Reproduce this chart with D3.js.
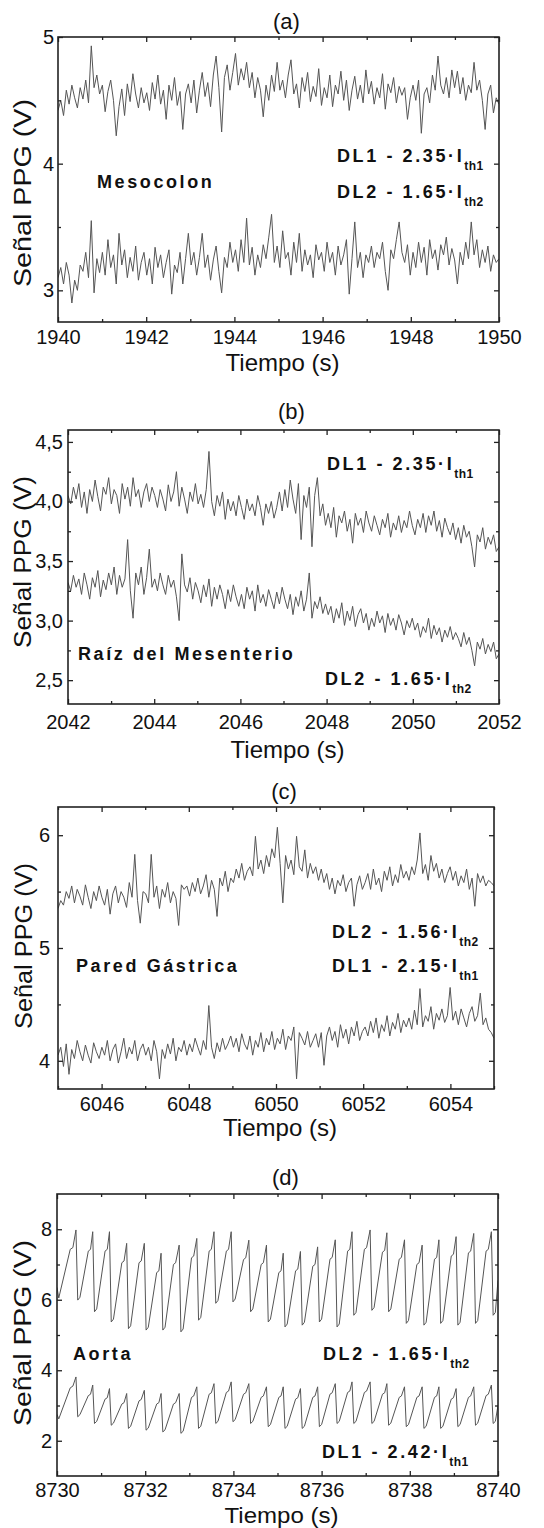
<!DOCTYPE html>
<html>
<head>
<meta charset="utf-8">
<script src="https://cdn.jsdelivr.net/npm/d3@7"></script>
<style>
  body { margin: 0; background: #fff; }
  svg text { font-family: "Liberation Sans", Arial, sans-serif; fill: #111; }
</style>
</head>
<body>
<svg id="fig" width="544" height="1528"></svg>
<script>
// ---- tick values ----
const ticksA = [1940, 1942, 1944, 1946, 1948, 1950];
const minorA = [1941, 1943, 1945, 1947, 1949];
const ticksB = [2042, 2044, 2046, 2048, 2050, 2052];
const minorB = [2043, 2045, 2047, 2049, 2051];
const ticksC = [6046, 6048, 6050, 6052, 6054];
const minorC = [6045, 6047, 6049, 6051, 6053, 6055];
const ticksD = [8730, 8732, 8734, 8736, 8738, 8740];
const minorD = [8731, 8733, 8735, 8737, 8739];

// ---- (a) Mesocolon, 160 samples over 10 s ----
const mesocolonDL1 = [
  4.42,4.50,4.38,4.58,4.47,4.62,4.52,4.44,4.60,4.51,4.66,4.48,4.93,4.60,4.70,4.55,
  4.62,4.41,4.57,4.66,4.50,4.22,4.45,4.59,4.38,4.63,4.49,4.71,4.55,4.44,4.60,4.48,
  4.56,4.42,4.64,4.51,4.70,4.47,4.58,4.35,4.62,4.50,4.68,4.46,4.57,4.27,4.55,4.63,
  4.48,4.66,4.40,4.58,4.72,4.53,4.64,4.45,4.70,4.85,4.60,4.25,4.68,4.78,4.58,4.72,
  4.87,4.62,4.75,4.66,4.80,4.60,4.72,4.52,4.68,4.58,4.37,4.62,4.50,4.70,4.57,4.80,
  4.58,4.66,4.52,4.70,4.82,4.55,4.63,4.44,4.68,4.57,4.72,4.49,4.61,4.53,4.75,4.46,
  4.60,4.52,4.70,4.45,4.62,4.55,4.73,4.50,4.66,4.42,4.58,4.69,4.51,4.62,4.48,4.74,
  4.55,4.65,4.47,4.60,4.52,4.71,4.43,4.63,4.56,4.68,4.48,4.61,4.54,4.60,4.35,4.52,
  4.62,4.50,4.66,4.24,4.55,4.60,4.48,4.70,4.58,4.85,4.62,4.55,4.68,4.52,4.74,4.60,
  4.73,4.55,4.68,4.50,4.62,4.56,4.80,4.58,4.66,4.50,4.27,4.55,4.62,4.40,4.52,4.47
];
const mesocolonDL2 = [
  3.10,3.18,3.05,3.22,3.12,2.90,3.08,3.00,3.20,3.15,3.30,3.10,3.55,2.98,3.25,3.14,
  3.30,3.12,3.40,3.18,3.28,3.05,3.45,3.20,3.32,3.10,3.26,3.15,3.35,3.08,3.22,3.30,
  3.12,3.25,3.05,3.34,3.18,3.28,3.10,3.22,3.32,2.97,3.20,3.14,3.30,3.05,3.25,3.45,
  3.20,3.30,3.12,3.26,3.45,3.18,3.28,3.08,3.24,3.35,3.15,2.98,3.26,3.18,3.38,3.22,
  3.32,3.15,3.40,3.22,3.57,3.20,3.34,3.12,3.28,3.18,3.36,3.25,3.42,3.60,3.22,3.35,
  3.18,3.47,3.25,3.30,3.12,3.38,3.22,3.45,3.15,3.32,3.20,3.28,3.10,3.36,3.24,3.30,
  3.15,3.38,3.22,3.30,3.12,3.35,3.20,3.28,3.40,2.97,3.25,3.54,3.18,3.30,3.10,3.28,
  3.22,3.35,3.18,3.30,3.25,3.38,3.15,3.00,3.32,3.25,3.40,3.54,3.30,3.22,3.36,3.12,
  3.30,3.18,3.38,3.22,3.34,3.12,3.40,3.25,3.32,3.16,3.36,3.28,3.42,3.20,3.33,3.24,
  3.05,3.30,3.20,3.38,3.25,3.54,3.28,3.40,3.18,3.32,3.22,3.35,3.15,3.28,3.22,3.25
];

// ---- (b) Raiz del Mesenterio ----
const raizDL1 = [
  4.05,3.98,4.12,4.02,4.15,3.95,4.08,3.90,4.10,4.00,4.18,4.04,3.92,4.12,4.06,4.20,
  3.98,4.10,4.05,3.90,4.15,4.02,4.12,3.96,4.20,4.04,4.10,3.95,4.08,4.15,4.00,4.12,
  4.05,3.95,4.10,4.02,3.92,4.14,4.00,4.08,4.25,3.96,4.12,4.02,3.90,4.08,4.00,4.15,
  3.98,4.06,3.95,4.10,4.42,4.00,3.88,4.05,3.96,4.08,3.85,4.02,3.92,4.00,3.88,4.05,
  3.95,3.85,4.02,3.92,3.98,3.88,4.05,3.95,3.80,3.98,3.90,4.00,3.86,3.95,4.08,3.92,
  4.10,3.95,4.18,4.02,3.90,4.15,3.68,4.05,3.95,4.12,3.62,4.05,4.20,3.88,3.98,3.80,
  3.90,3.78,3.95,3.70,3.88,3.82,3.92,3.75,3.85,3.65,3.90,3.80,3.86,3.74,3.92,3.82,
  3.75,3.88,3.80,3.72,3.85,3.78,3.90,3.70,3.82,3.76,3.88,3.74,3.84,3.78,3.92,3.80,
  3.72,3.85,3.78,3.90,3.74,3.88,3.80,3.92,3.75,3.84,3.70,3.86,3.78,3.72,3.82,3.68,
  3.78,3.65,3.80,3.70,3.75,3.62,3.45,3.72,3.66,3.78,3.60,3.70,3.64,3.72,3.58,3.62
];
const raizDL2 = [
  3.32,3.25,3.38,3.28,3.35,3.22,3.40,3.30,3.18,3.36,3.28,3.42,3.20,3.34,3.26,3.40,
  3.30,3.45,3.22,3.38,3.28,3.35,3.68,3.25,3.02,3.40,3.30,3.45,3.22,3.36,3.60,3.28,
  3.35,3.25,3.40,3.30,3.22,3.38,3.28,3.34,3.20,3.00,3.56,3.30,3.24,3.36,3.18,3.32,
  3.25,3.15,3.30,3.20,3.35,3.12,3.28,3.18,3.30,3.22,3.10,3.26,3.16,3.30,3.20,3.12,
  3.22,3.10,3.28,3.18,3.25,3.08,3.30,3.15,3.22,3.12,3.26,3.18,3.10,3.24,3.14,3.28,
  3.18,3.10,3.22,3.05,3.20,3.12,3.25,3.08,3.18,3.40,3.02,3.16,3.10,3.20,3.06,3.14,
  3.05,3.12,2.98,3.10,3.02,3.15,2.96,3.08,3.00,3.12,2.95,3.05,3.10,2.98,3.06,2.92,
  3.02,2.95,3.08,2.98,3.04,2.90,3.06,2.96,3.02,2.92,3.05,2.98,2.88,3.00,2.94,3.02,
  2.92,2.98,2.86,2.95,2.90,3.02,2.85,2.96,2.88,2.94,2.82,2.92,2.86,2.95,2.84,2.90,
  2.85,2.78,2.90,2.80,2.86,2.75,2.62,2.82,2.76,2.85,2.72,2.80,2.74,2.82,2.68,2.72
];

// ---- (c) Pared Gastrica ----
const paredDL2 = [
  5.35,5.42,5.38,5.50,5.44,5.55,5.40,5.52,5.46,5.38,5.56,5.45,5.35,5.50,5.42,5.55,
  5.45,5.38,5.52,5.30,5.48,5.55,5.40,5.50,5.45,5.36,5.58,5.45,5.83,5.42,5.22,5.50,
  5.48,5.40,5.83,5.45,5.55,5.35,5.52,5.45,5.58,5.40,5.50,5.44,5.20,5.56,5.52,5.55,
  5.46,5.58,5.50,5.62,5.48,5.55,5.65,5.45,5.60,5.52,5.28,5.62,5.55,5.68,5.50,5.62,
  5.58,5.70,5.62,5.75,5.60,5.68,5.72,5.64,5.99,5.70,5.78,5.66,5.82,5.72,5.88,5.80,
  6.07,5.75,5.40,5.82,5.70,5.78,5.65,5.99,5.72,5.68,5.87,5.62,5.75,5.66,5.72,5.60,
  5.70,5.58,5.66,5.52,5.62,5.48,5.60,5.55,5.65,5.50,5.58,5.62,5.37,5.56,5.64,5.52,
  5.58,5.66,5.52,5.70,5.56,5.62,5.50,5.68,5.60,5.72,5.55,5.65,5.58,5.74,5.62,5.68,
  5.60,5.72,5.65,5.78,6.02,5.66,5.74,5.60,5.82,5.68,5.75,5.62,5.70,5.58,5.66,5.72,
  5.60,5.68,5.55,5.64,5.58,5.70,5.52,5.62,5.37,5.66,5.58,5.64,5.55,5.60,5.58,5.55
];
const paredDL1 = [
  4.05,4.12,3.95,4.15,3.88,4.10,4.02,4.18,4.08,4.00,4.14,4.05,3.98,4.16,4.08,4.02,
  4.12,4.05,4.18,4.00,4.10,4.15,3.98,4.08,4.20,4.02,4.12,4.06,4.18,4.00,4.10,4.15,
  4.05,4.12,4.00,4.18,4.08,3.84,4.10,4.02,4.15,4.06,4.20,4.00,4.12,4.08,4.18,4.05,
  4.15,4.08,4.20,4.12,4.05,4.18,4.10,4.49,4.12,4.02,4.16,4.08,4.20,4.10,4.15,4.22,
  4.12,4.20,4.08,4.24,4.15,4.10,4.22,4.05,4.18,4.12,4.25,4.08,4.20,4.14,4.26,4.10,
  4.20,4.15,4.28,4.10,4.22,4.18,4.30,3.84,4.25,4.20,4.14,4.26,4.12,4.18,4.24,4.12,
  4.25,3.96,4.22,4.30,4.18,4.26,4.12,4.32,4.20,4.28,4.15,4.30,4.22,4.35,4.18,4.26,
  4.30,4.22,4.35,4.25,4.38,4.20,4.32,4.26,4.40,4.22,4.34,4.28,4.42,4.25,4.36,4.30,
  4.38,4.28,4.45,4.32,4.64,4.30,4.40,4.35,4.48,4.28,4.42,4.36,4.46,4.34,4.40,4.65,
  4.36,4.44,4.32,4.46,4.38,4.30,4.42,4.48,4.35,4.40,4.60,4.32,4.38,4.28,4.25,4.20
];

// ---- (d) Aorta: vertices (time, value) read per beat ----
const aortaTime = [
  8730.00,8730.04,8730.30,8730.36,
  8730.43,8730.47,8730.52,8730.71,8730.76,
  8730.81,8730.85,8730.90,8731.09,8731.14,
  8731.19,8731.23,8731.28,8731.47,8731.52,
  8731.58,8731.62,8731.67,8731.86,8731.91,
  8731.98,8732.02,8732.07,8732.26,8732.31,
  8732.36,8732.40,8732.45,8732.64,8732.69,
  8732.77,8732.81,8732.86,8733.05,8733.10,
  8733.17,8733.21,8733.26,8733.45,8733.50,
  8733.56,8733.60,8733.65,8733.84,8733.89,
  8733.95,8733.99,8734.04,8734.23,8734.28,
  8734.35,8734.39,8734.44,8734.63,8734.68,
  8734.75,8734.79,8734.84,8735.03,8735.08,
  8735.13,8735.17,8735.22,8735.41,8735.46,
  8735.52,8735.56,8735.61,8735.80,8735.85,
  8735.91,8735.95,8736.00,8736.19,8736.24,
  8736.31,8736.35,8736.40,8736.59,8736.64,
  8736.69,8736.73,8736.78,8736.97,8737.02,
  8737.10,8737.14,8737.19,8737.38,8737.43,
  8737.48,8737.52,8737.57,8737.76,8737.81,
  8737.88,8737.92,8737.97,8738.16,8738.21,
  8738.28,8738.32,8738.37,8738.56,8738.61,
  8738.66,8738.70,8738.75,8738.94,8738.99,
  8739.05,8739.09,8739.14,8739.33,8739.38,
  8739.45,8739.49,8739.54,8739.73,8739.78,
  8739.85,8739.89,8739.94,8740.00
];
const aortaDL2 = [
  6.35,6.05,7.43,7.48,
  7.98,5.99,6.07,7.38,7.43,
  7.93,5.66,5.74,7.38,7.43,
  7.93,5.37,5.45,7.05,7.10,
  7.60,5.18,5.26,7.05,7.10,
  7.60,5.14,5.22,6.77,6.82,
  7.32,5.14,5.22,7.00,7.05,
  7.55,5.09,5.17,7.19,7.24,
  7.74,5.42,5.50,7.38,7.43,
  7.93,5.90,5.98,7.38,7.43,
  7.93,5.94,6.02,7.14,7.19,
  7.69,5.66,5.74,7.00,7.05,
  7.55,5.37,5.45,6.77,6.82,
  7.32,5.23,5.31,6.82,6.87,
  7.37,5.28,5.36,6.95,7.00,
  7.50,5.37,5.45,7.15,7.20,
  7.70,5.23,5.31,7.38,7.43,
  7.93,5.56,5.64,7.43,7.48,
  7.98,5.70,5.78,7.35,7.40,
  7.90,5.66,5.74,7.15,7.20,
  7.70,5.33,5.41,7.00,7.05,
  7.55,5.28,5.36,7.15,7.20,
  7.70,5.33,5.41,7.24,7.29,
  7.79,5.28,5.36,7.33,7.38,
  7.88,5.33,5.41,7.38,7.43,
  7.93,5.56,5.64,6.55
];
const aortaDL1 = [
  2.75,2.62,3.50,3.55,
  3.81,2.68,2.74,3.28,3.32,
  3.58,2.49,2.55,3.18,3.22,
  3.48,2.44,2.50,3.04,3.08,
  3.34,2.35,2.41,3.13,3.17,
  3.43,2.30,2.36,3.04,3.08,
  3.34,2.25,2.31,3.04,3.08,
  3.34,2.21,2.27,3.23,3.27,
  3.53,2.35,2.41,3.32,3.36,
  3.62,2.49,2.55,3.37,3.41,
  3.67,2.54,2.60,3.32,3.36,
  3.62,2.49,2.55,3.23,3.27,
  3.53,2.40,2.46,3.23,3.27,
  3.53,2.35,2.41,3.18,3.22,
  3.48,2.35,2.41,3.23,3.27,
  3.53,2.40,2.46,3.32,3.36,
  3.62,2.49,2.55,3.37,3.41,
  3.67,2.49,2.55,3.37,3.41,
  3.67,2.49,2.55,3.32,3.36,
  3.62,2.44,2.50,3.23,3.27,
  3.53,2.40,2.46,3.23,3.27,
  3.53,2.35,2.41,3.23,3.27,
  3.53,2.35,2.41,3.18,3.22,
  3.48,2.40,2.46,3.23,3.27,
  3.53,2.44,2.50,3.28,3.32,
  3.58,2.49,2.55,3.00
];

// ---- helpers ----
function evenSeries(values, t0, t1) {
  const step = (t1 - t0) / (values.length - 1);
  return values.map((v, i) => [t0 + i * step, v]);
}
function pairSeries(times, values) {
  return times.map((t, i) => [t, values[i]]);
}
const comma = d => d3.format(".1f")(d).replace(".", ",");

const panels = [
  {
    tag: "(a)", tagY: 29,
    box: {l: 58, r: 499, t: 37, b: 322},
    xDomain: [1940, 1950], yDomain: [2.75, 5],
    xMajor: ticksA, xMinor: minorA,
    yMajor: [3, 4, 5], yMinor: [3.5, 4.5], yFormat: d3.format("d"),
    xPad: 8, yPad: 4, xTitleY: 371, xTitleSize: 24, yTitle: {x: 23, y: 193, len: 188},
    lines: [evenSeries(mesocolonDL1, 1940, 1950), evenSeries(mesocolonDL2, 1940, 1950)],
    notes: [
      {text: "DL1 - 2.35·I", sub: "th1", x: 337, y: 162},
      {text: "DL2 - 1.65·I", sub: "th2", x: 337, y: 198},
      {text: "Mesocolon", x: 97, y: 188}
    ]
  },
  {
    tag: "(b)", tagY: 419,
    box: {l: 68, r: 499, t: 430, b: 704},
    xDomain: [2042, 2052], yDomain: [2.3, 4.6],
    xMajor: ticksB, xMinor: minorB,
    yMajor: [2.5, 3, 3.5, 4, 4.5], yMinor: [2.75, 3.25, 3.75, 4.25], yFormat: comma,
    xPad: 11, yPad: 5, xTitleY: 758, xTitleSize: 24, yTitle: {x: 23, y: 562, len: 172},
    lines: [evenSeries(raizDL1, 2042, 2052), evenSeries(raizDL2, 2042, 2052)],
    notes: [
      {text: "DL1 - 2.35·I", sub: "th1", x: 327, y: 470},
      {text: "Raíz del Mesenterio", x: 78, y: 660},
      {text: "DL2 - 1.65·I", sub: "th2", x: 325, y: 685}
    ]
  },
  {
    tag: "(c)", tagY: 799,
    box: {l: 58, r: 494, t: 807, b: 1089},
    xDomain: [6045, 6055], yDomain: [3.75, 6.25],
    xMajor: ticksC, xMinor: minorC,
    yMajor: [4, 5, 6], yMinor: [4.5, 5.5], yFormat: d3.format("d"),
    xPad: 8, yPad: 8, xTitleY: 1136, xTitleSize: 24, yTitle: {x: 24, y: 946, len: 166},
    lines: [evenSeries(paredDL2, 6045, 6055), evenSeries(paredDL1, 6045, 6055)],
    notes: [
      {text: "DL2 - 1.56·I", sub: "th2", x: 332, y: 938},
      {text: "DL1 - 2.15·I", sub: "th1", x: 332, y: 972},
      {text: "Pared Gástrica", x: 76, y: 972}
    ]
  },
  {
    tag: "(d)", tagY: 1185,
    box: {l: 57, r: 498, t: 1194, b: 1476},
    xDomain: [8730, 8740], yDomain: [1, 9],
    xMajor: ticksD, xMinor: minorD,
    yMajor: [2, 4, 6, 8], yMinor: [3, 5, 7], yFormat: d3.format("d"),
    xPad: 7, yPad: 5, xTitleY: 1523, xTitleSize: 22, yTitle: {x: 23, y: 1333, len: 186},
    lines: [pairSeries(aortaTime, aortaDL2), pairSeries(aortaTime, aortaDL1)],
    notes: [
      {text: "DL2 - 1.65·I", sub: "th2", x: 323, y: 1360},
      {text: "Aorta", x: 73, y: 1360},
      {text: "DL1 - 2.42·I", sub: "th1", x: 322, y: 1458}
    ]
  }
];

const svg = d3.select("#fig");
const defs = svg.append("defs");

panels.forEach((p, k) => {
  const {l, r, t, b} = p.box;
  const x = d3.scaleLinear().domain(p.xDomain).range([l, r]);
  const y = d3.scaleLinear().domain(p.yDomain).range([b, t]);
  const g = svg.append("g");

  defs.append("clipPath").attr("id", "clip" + k)
    .append("rect").attr("x", l).attr("y", t).attr("width", r - l).attr("height", b - t);

  const line = d3.line().x(d => x(d[0])).y(d => y(d[1]));
  p.lines.forEach(pts => {
    g.append("path")
      .datum(pts)
      .attr("d", line)
      .attr("fill", "none")
      .attr("stroke", "#555")
      .attr("stroke-width", 1)
      .attr("stroke-linejoin", "round")
      .attr("clip-path", "url(#clip" + k + ")");
  });

  // inward ticks on all four sides
  const axes = [
    [d3.axisBottom(x).tickValues(p.xMajor).tickSize(-5).tickPadding(p.xPad).tickFormat(d3.format("d")), `translate(0,${b})`],
    [d3.axisBottom(x).tickValues(p.xMinor).tickSize(-3).tickFormat(""), `translate(0,${b})`],
    [d3.axisTop(x).tickValues(p.xMajor).tickSize(-5).tickFormat(""), `translate(0,${t})`],
    [d3.axisTop(x).tickValues(p.xMinor).tickSize(-3).tickFormat(""), `translate(0,${t})`],
    [d3.axisLeft(y).tickValues(p.yMajor).tickSize(-5).tickPadding(p.yPad).tickFormat(p.yFormat), `translate(${l},0)`],
    [d3.axisLeft(y).tickValues(p.yMinor).tickSize(-3).tickFormat(""), `translate(${l},0)`],
    [d3.axisRight(y).tickValues(p.yMajor).tickSize(-5).tickFormat(""), `translate(${r},0)`],
    [d3.axisRight(y).tickValues(p.yMinor).tickSize(-3).tickFormat(""), `translate(${r},0)`]
  ];
  axes.forEach(([ax, tr]) => {
    const a = g.append("g").attr("transform", tr).call(ax)
      .attr("font-size", 20).attr("color", "#222");
    a.select(".domain").remove();
    a.selectAll(".tick line").attr("stroke-width", 1.3);
  });

  g.append("rect")
    .attr("x", l).attr("y", t).attr("width", r - l).attr("height", b - t)
    .attr("fill", "none").attr("stroke", "#222").attr("stroke-width", 1.6);

  // titles
  g.append("text")
    .attr("x", (l + r) / 2 + 8).attr("y", p.tagY)
    .attr("text-anchor", "middle").attr("font-size", 22)
    .text(p.tag);

  g.append("text")
    .attr("x", (l + r) / 2 + 4).attr("y", p.xTitleY)
    .attr("text-anchor", "middle").attr("font-size", p.xTitleSize)
    .attr("textLength", 114).attr("lengthAdjust", "spacingAndGlyphs")
    .text("Tiempo (s)");

  g.append("text")
    .attr("transform", `translate(${p.yTitle.x},${p.yTitle.y}) rotate(-90)`)
    .attr("text-anchor", "middle").attr("dy", "0.35em").attr("font-size", 23)
    .attr("textLength", p.yTitle.len).attr("lengthAdjust", "spacingAndGlyphs")
    .text("Señal PPG (V)");

  p.notes.forEach(n => {
    const tx = g.append("text")
      .attr("x", n.x).attr("y", n.y)
      .attr("font-size", 18).attr("font-weight", "bold")
      .attr("letter-spacing", 2.6);
    tx.append("tspan").text(n.text);
    if (n.sub) {
      tx.append("tspan").attr("font-size", 12).attr("dy", 8)
        .attr("letter-spacing", 0.5).text(n.sub);
    }
  });
});
</script>
</body>
</html>
